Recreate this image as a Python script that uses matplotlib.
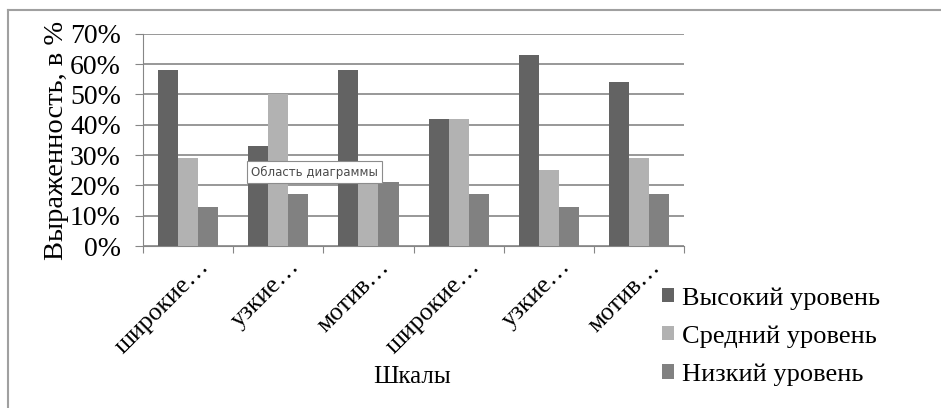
import numpy as np
import matplotlib
matplotlib.use("Agg")
import matplotlib.pyplot as plt
import matplotlib.transforms as mtransforms
from matplotlib.ticker import PercentFormatter

# данные
categories = ["широкие…", "узкие…", "мотив…", "широкие…", "узкие…", "мотив…"]
series_names = ["Высокий уровень", "Средний уровень", "Низкий уровень"]
high = [58, 33, 58, 42, 63, 54]
medium = [29, 50, 21, 42, 25, 29]
low = [13, 17, 21, 17, 13, 17]
colors = ["#636363", "#b2b2b2", "#818181"]

plt.rcParams["font.family"] = "serif"
plt.rcParams["font.serif"] = ["Liberation Serif", "DejaVu Serif"]

fig = plt.figure(figsize=(9.41, 4.08), dpi=100)
ax = fig.add_axes([0.152, 0.397, 0.575, 0.520])

x = np.arange(len(categories))
w = 0.222
for i, (vals, name) in enumerate(zip([high, medium, low], series_names)):
    ax.bar(x + (i - 1) * w, vals, width=w, color=colors[i], label=name, zorder=3)

ax.set_xlim(-0.5, len(categories) - 0.5)
ax.set_ylim(0, 70)
ax.set_yticks(range(0, 71, 10))
ax.yaxis.set_major_formatter(PercentFormatter(decimals=0))
ax.set_xticks(np.arange(-0.5, len(categories), 1.0))
ax.set_xticklabels([])
ax.set_xticks(x, minor=True)
ax.set_xticklabels(categories, minor=True, rotation=45, ha="right",
                   rotation_mode="anchor", fontsize=18.5)
ax.tick_params(axis="x", which="minor", length=0, pad=7)
ax.tick_params(axis="x", which="major", length=5, color="#868686", direction="out")
ax.tick_params(axis="y", length=6, color="#868686", labelsize=20, pad=10)

# сдвиг подписей категорий чуть вправо, как в Excel
shift = mtransforms.ScaledTranslation(10 / 100, 0, fig.dpi_scale_trans)
for lbl in ax.get_xticklabels(minor=True):
    lbl.set_transform(lbl.get_transform() + shift)

ax.grid(axis="y", color="#868686", linewidth=1.2, zorder=0)
for s in ["top", "right"]:
    ax.spines[s].set_visible(False)
ax.spines["left"].set_color("#868686")
ax.spines["bottom"].set_color("#868686")

ax.set_ylabel("Выраженность, в %", fontsize=20.5)
ax.yaxis.set_label_coords(-0.136, 0.5)
ax.set_xlabel("Шкалы", fontsize=18)
ax.xaxis.set_label_coords(0.497, -0.566)

fig.legend(loc="upper left", bbox_to_anchor=(0.692, 0.322), frameon=False,
           fontsize=19, handlelength=0.45, handleheight=0.45, handletextpad=0.3,
           labelspacing=0.59, borderaxespad=0)

# рамка области диаграммы (видны только верх и лево)
fig.add_artist(plt.Line2D([0.009, 1.0], [0.975, 0.975], color="#a0a0a0", lw=1.5,
                          transform=fig.transFigure))
fig.add_artist(plt.Line2D([0.009, 0.009], [0.0, 0.975], color="#a0a0a0", lw=1.5,
                          transform=fig.transFigure))

# всплывающая подсказка Excel
fig.text(0.267, 0.578, "Область диаграммы", fontsize=8.5, family="DejaVu Sans",
         color="#4c4c4c", va="center", ha="left",
         bbox=dict(boxstyle="square,pad=0.35", fc="white", ec="#8c8c8c", lw=0.8))

fig.savefig("out.png", dpi=100)
